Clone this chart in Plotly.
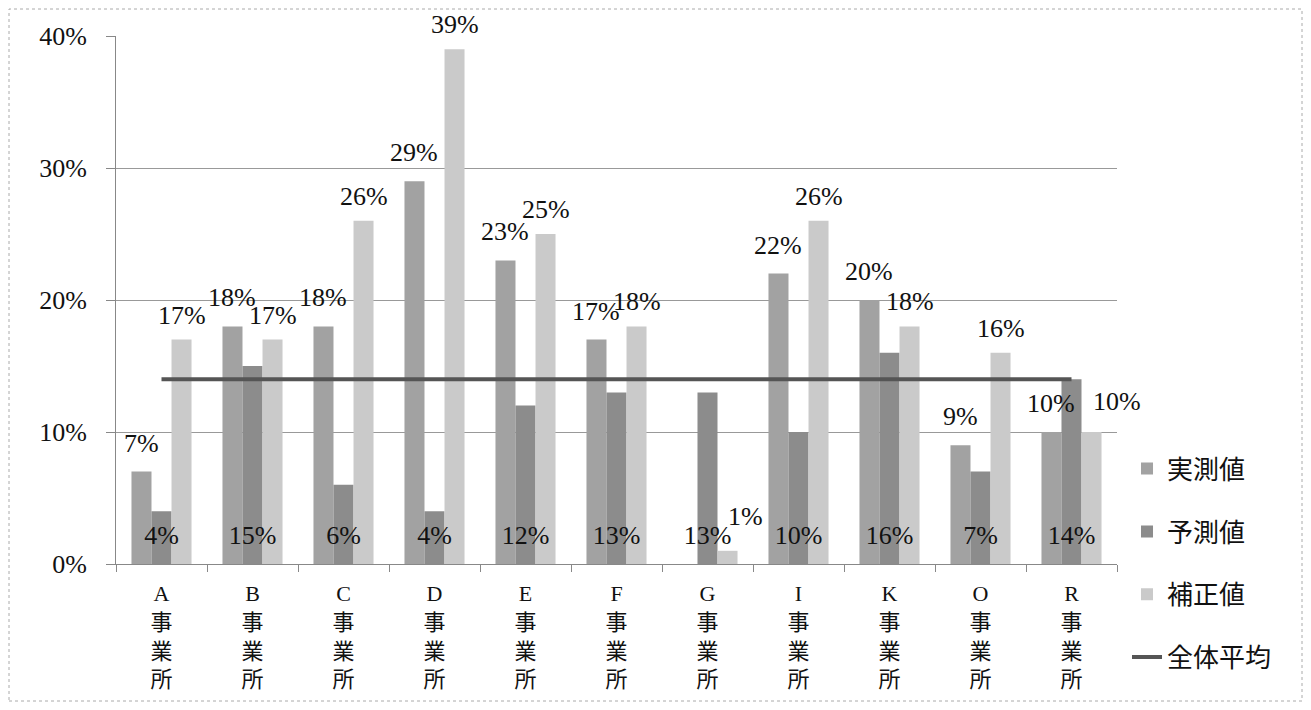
import plotly.graph_objects as go

categories = ["A<br>事<br>業<br>所", "B<br>事<br>業<br>所", "C<br>事<br>業<br>所", "D<br>事<br>業<br>所",
              "E<br>事<br>業<br>所", "F<br>事<br>業<br>所", "G<br>事<br>業<br>所", "I<br>事<br>業<br>所",
              "K<br>事<br>業<br>所", "O<br>事<br>業<br>所", "R<br>事<br>業<br>所"]
jissoku = [0.07, 0.18, 0.18, 0.29, 0.23, 0.17, None, 0.22, 0.20, 0.09, 0.10]
yosoku = [0.04, 0.15, 0.06, 0.04, 0.12, 0.13, 0.13, 0.10, 0.16, 0.07, 0.14]
hosei = [0.17, 0.17, 0.26, 0.39, 0.25, 0.18, 0.01, 0.26, 0.18, 0.16, 0.10]
zentai_heikin = [0.14] * len(categories)
y_ticks = [0, 0.1, 0.2, 0.3, 0.4]

FONT = "Liberation Serif, 'Noto Sans CJK JP', serif"
fsize = 26

W, H = 1295, 694
L, R, T, B = 108, 186, 28, 138
BARGAP = 0.34
plot_w = W - L - R
plot_h = H - T - B
bar_w = plot_w / len(categories) * (1 - BARGAP) / 3

fig = go.Figure()
fig.add_trace(go.Bar(x=categories, y=jissoku, name="実測値", legendgroup="g1",
                     marker=dict(color="#a2a2a2", line=dict(width=0))))
fig.add_trace(go.Bar(x=categories, y=yosoku, name="予測値", legendgroup="g2",
                     marker=dict(color="#8c8c8c", line=dict(width=0))))
fig.add_trace(go.Bar(x=categories, y=hosei, name="補正値", legendgroup="g3",
                     marker=dict(color="#cacaca", line=dict(width=0))))
fig.add_trace(go.Scatter(x=categories, y=zentai_heikin, name="全体平均", legendgroup="g4", mode="lines",
                         line=dict(color="#555555", width=4)))
# 予測値 labels at the base of the centre bar
fig.add_trace(go.Scatter(x=categories, y=[0] * len(categories), mode="markers+text",
                         text=[f"{v:.0%}" for v in yosoku], textposition="top center",
                         marker=dict(size=20, color="rgba(0,0,0,0)"),
                         textfont=dict(family=FONT, size=fsize, color="#111"),
                         showlegend=False, hoverinfo="skip", cliponaxis=False))

annotations = []
for c, v in zip(categories, jissoku):
    if v is None:
        continue
    annotations.append(dict(x=c, y=v, xref="x", yref="y", text=f"{v:.0%}", showarrow=False,
                            xshift=-bar_w, yanchor="bottom", yshift=12,
                            font=dict(family=FONT, size=fsize, color="#111")))
for c, v, j in zip(categories, hosei, jissoku):
    xs, ys = bar_w, 8
    if v < 0.05:
        xs, ys = bar_w + 18, 18
    elif j is not None and abs(j - v) < 0.005:
        xs, ys = bar_w + 25, 14
    annotations.append(dict(x=c, y=v, xref="x", yref="y", text=f"{v:.0%}", showarrow=False,
                            xshift=xs, yanchor="bottom", yshift=ys,
                            font=dict(family=FONT, size=fsize, color="#111")))

fig.update_layout(
    width=W, height=H, autosize=False,
    margin=dict(l=L, r=R, t=T, b=B, autoexpand=False),
    paper_bgcolor="white", plot_bgcolor="white",
    barmode="group", bargap=BARGAP, bargroupgap=0,
    font=dict(family=FONT, size=fsize, color="#111"),
    legend=dict(x=1.01, xanchor="left", y=0.225, yanchor="top",
                font=dict(family=FONT, size=fsize, color="#111"),
                tracegroupgap=26, bgcolor="rgba(0,0,0,0)"),
    xaxis=dict(range=[-0.5, len(categories) - 0.5], showline=True, linecolor="#888", linewidth=1,
               ticks="outside", tickson="boundaries", ticklen=7, tickcolor="#888", showgrid=False,
               ticklabelstandoff=10,
               tickfont=dict(family=FONT, size=22, color="#111")),
    yaxis=dict(range=[0, 0.40], tickvals=y_ticks, tickformat=".0%", showline=True, linecolor="#888",
               linewidth=1, ticks="outside", ticklen=9, tickcolor="#888", ticklabelstandoff=14,
               showgrid=True, gridcolor="#999", gridwidth=1, zeroline=False,
               tickfont=dict(family=FONT, size=fsize, color="#111")),
    annotations=annotations,
    shapes=[dict(type="rect", xref="paper", yref="paper",
                 x0=(9 - 116) / plot_w, x1=(1302 - 116) / plot_w,
                 y0=(564 - 701) / plot_h, y1=(564 - 9) / plot_h,
                 line=dict(color="#aaa", width=1, dash="dot"), fillcolor="rgba(0,0,0,0)", layer="below")],
)

fig.write_html("out.html")
